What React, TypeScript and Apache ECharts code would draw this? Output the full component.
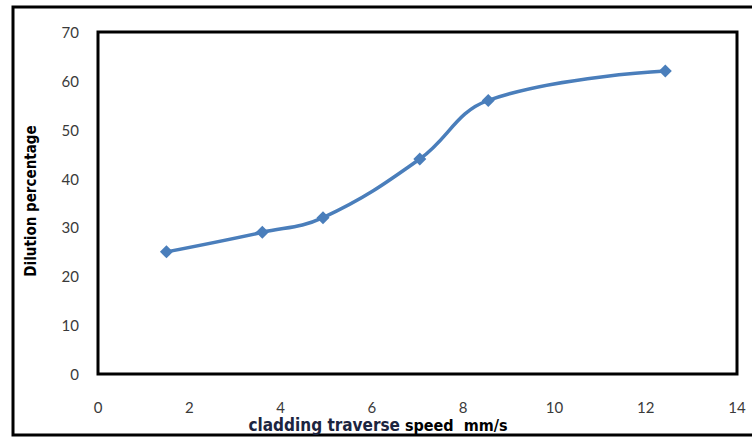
import React, { useEffect, useRef } from "react";
import * as echarts from "echarts";

const speeds: number[] = [1.5, 3.6, 4.93, 7.05, 8.55, 12.43];
const dilution: number[] = [25, 29, 32, 44, 56, 62];
const xTicks = { min: 0, max: 14, interval: 2 };
const yTicks = { min: 0, max: 70, interval: 10 };
const xTitleA = "cladding traverse";
const xTitleB = "speed  mm/s";
const yTitle = "Dilution percentage";

export default function App() {
  const ref = useRef<HTMLDivElement>(null);
  useEffect(() => {
    if (!ref.current) return;
    const chart = echarts.init(ref.current, undefined, { renderer: "svg" });
    const labelFont = {
      fontFamily: "Lato, 'Open Sans', sans-serif",
      fontSize: 15,
      color: "#3a3a3a",
      lineHeight: 15,
    };
    chart.setOption({
      animation: false,
      backgroundColor: "#ffffff",
      grid: {
        left: 98,
        right: 15,
        top: 32,
        bottom: 64,
        show: true,
        borderColor: "#000000",
        borderWidth: 3,
        backgroundColor: "transparent",
      },
      xAxis: {
        type: "value",
        min: xTicks.min,
        max: xTicks.max,
        interval: xTicks.interval,
        axisLine: { show: false },
        axisTick: { show: false },
        splitLine: { show: false },
        axisLabel: { ...labelFont, margin: 25 },
      },
      yAxis: {
        type: "value",
        min: yTicks.min,
        max: yTicks.max,
        interval: yTicks.interval,
        axisLine: { show: false },
        axisTick: { show: false },
        splitLine: { show: false },
        axisLabel: { ...labelFont, margin: 19 },
      },
      series: [
        {
          type: "line",
          data: speeds.map((x, i) => [x, dilution[i]]),
          smooth: 0.4,
          symbol: "diamond",
          symbolSize: 13,
          lineStyle: { color: "#4a7ebb", width: 3.5 },
          itemStyle: { color: "#4a7ebb" },
        },
      ],
      graphic: [
        {
          type: "rect",
          shape: { x: 13, y: 7, width: 760, height: 428 },
          style: { fill: "none", stroke: "#000000", lineWidth: 3 },
          silent: true,
        },
        {
          type: "text",
          x: 31,
          y: 201,
          rotation: Math.PI / 2,
          style: {
            text: yTitle,
            fill: "#000000",
            font: "bold 15px 'DejaVu Sans Condensed', 'Liberation Sans Narrow', sans-serif",
            align: "center",
            verticalAlign: "middle",
          },
        },
        {
          type: "text",
          x: 378,
          y: 425,
          style: {
            text: "{a|" + xTitleA + "}{s| }{b|" + xTitleB + "}",
            align: "center",
            verticalAlign: "middle",
            rich: {
              a: {
                fontFamily: "'Liberation Sans Narrow', 'DejaVu Sans Condensed', sans-serif",
                fontWeight: "bold",
                fontSize: 17,
                lineHeight: 16,
                fill: "#1c2540",
                color: "#1c2540",
              },
              s: { fontSize: 5, width: 5, lineHeight: 16 },
              b: {
                fontFamily: "'DejaVu Sans Condensed', 'Liberation Sans Narrow', sans-serif",
                fontWeight: "bold",
                fontSize: 16,
                lineHeight: 16,
                fill: "#000000",
                color: "#000000",
              },
            },
          },
        },
      ],
    });
    return () => chart.dispose();
  }, []);
  return (
    <div
      ref={ref}
      style={{ position: "fixed", left: 0, top: 0, width: 752, height: 438 }}
    />
  );
}
